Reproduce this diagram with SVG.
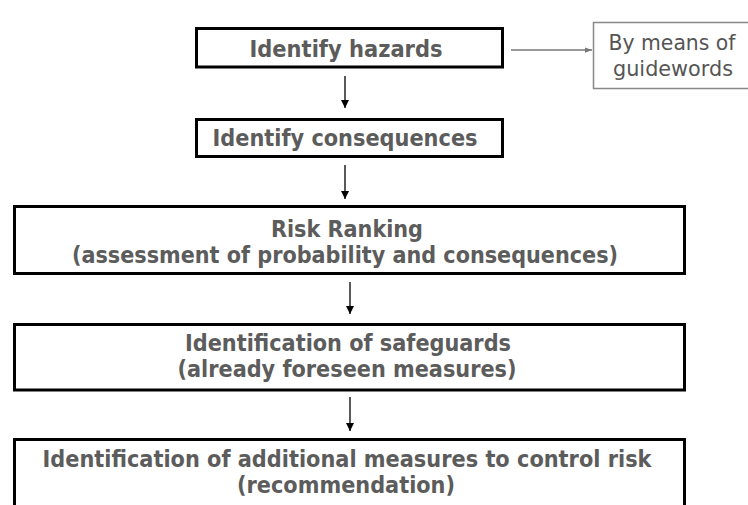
<svg xmlns="http://www.w3.org/2000/svg" width="748" height="505" viewBox="0 0 748 505">
<defs>
<style>
.box{fill:#fff;stroke:#000;stroke-width:3}
.t{font-family:'DejaVu Sans Condensed','DejaVu Sans',sans-serif;font-stretch:condensed;font-weight:bold;fill:#5c5c5c;text-anchor:middle}
.side{font-family:'DejaVu Sans','Liberation Sans',sans-serif;fill:#555;text-anchor:middle;font-size:22px}
.conn{stroke:#000;stroke-width:1.3;fill:none}
.conn2{stroke:#777;stroke-width:1.3;fill:none}
</style>
<marker id="ah" markerUnits="userSpaceOnUse" markerWidth="8" markerHeight="9" refX="8" refY="4" orient="auto" viewBox="0 0 8 8">
<path d="M0,0 L8,4 L0,8 Z" fill="#000"/>
</marker>
<marker id="ah2" markerUnits="userSpaceOnUse" markerWidth="8" markerHeight="7" refX="8" refY="4" orient="auto" viewBox="0 0 8 8">
<path d="M0,1 L8,4 L0,7 Z" fill="#777"/>
</marker>
</defs>
<rect width="748" height="505" fill="#fff"/>
<g id="connectors">
<line class="conn" x1="345" y1="76" x2="345" y2="108" marker-end="url(#ah)"/>
<line class="conn" x1="345" y1="165" x2="345" y2="199" marker-end="url(#ah)"/>
<line class="conn" x1="350" y1="282" x2="350" y2="314" marker-end="url(#ah)"/>
<line class="conn" x1="350" y1="397" x2="350" y2="431" marker-end="url(#ah)"/>
<line class="conn2" x1="511" y1="50" x2="592" y2="50" marker-end="url(#ah2)"/>
</g>
<g id="hazards">
<rect class="box" x="196.5" y="28.5" width="306" height="38.5"/>
<text class="t" x="346" y="57" font-size="23" textLength="193" lengthAdjust="spacingAndGlyphs">Identify hazards</text>
</g>
<g id="guidewords">
<rect x="593.5" y="22.5" width="170" height="66" fill="#fff" stroke="#888" stroke-width="1.5"/>
<text class="side" x="672" y="50" textLength="127" lengthAdjust="spacingAndGlyphs">By means of</text>
<text class="side" x="673" y="76" textLength="120" lengthAdjust="spacingAndGlyphs">guidewords</text>
</g>
<g id="consequences">
<rect class="box" x="196.5" y="119.5" width="306" height="37"/>
<text class="t" x="345" y="146" font-size="23" textLength="265" lengthAdjust="spacingAndGlyphs">Identify consequences</text>
</g>
<g id="risk-ranking">
<rect class="box" x="14.5" y="206.5" width="670" height="67"/>
<text class="t" x="347" y="237" font-size="23" textLength="152" lengthAdjust="spacingAndGlyphs">Risk Ranking</text>
<text class="t" x="345" y="263" font-size="23" textLength="546" lengthAdjust="spacingAndGlyphs">(assessment of probability and consequences)</text>
</g>
<g id="safeguards">
<rect class="box" x="14.5" y="324.5" width="670" height="65.5"/>
<text class="t" x="348" y="351" font-size="23" textLength="326" lengthAdjust="spacingAndGlyphs">Identification of safeguards</text>
<text class="t" x="347" y="377" font-size="23" textLength="339" lengthAdjust="spacingAndGlyphs">(already foreseen measures)</text>
</g>
<g id="additional-measures">
<rect class="box" x="14.5" y="439.5" width="670" height="80"/>
<text class="t" x="347" y="467" font-size="23" textLength="609" lengthAdjust="spacingAndGlyphs">Identification of additional measures to control risk</text>
<text class="t" x="346" y="493" font-size="23" textLength="218" lengthAdjust="spacingAndGlyphs">(recommendation)</text>
</g>
</svg>
